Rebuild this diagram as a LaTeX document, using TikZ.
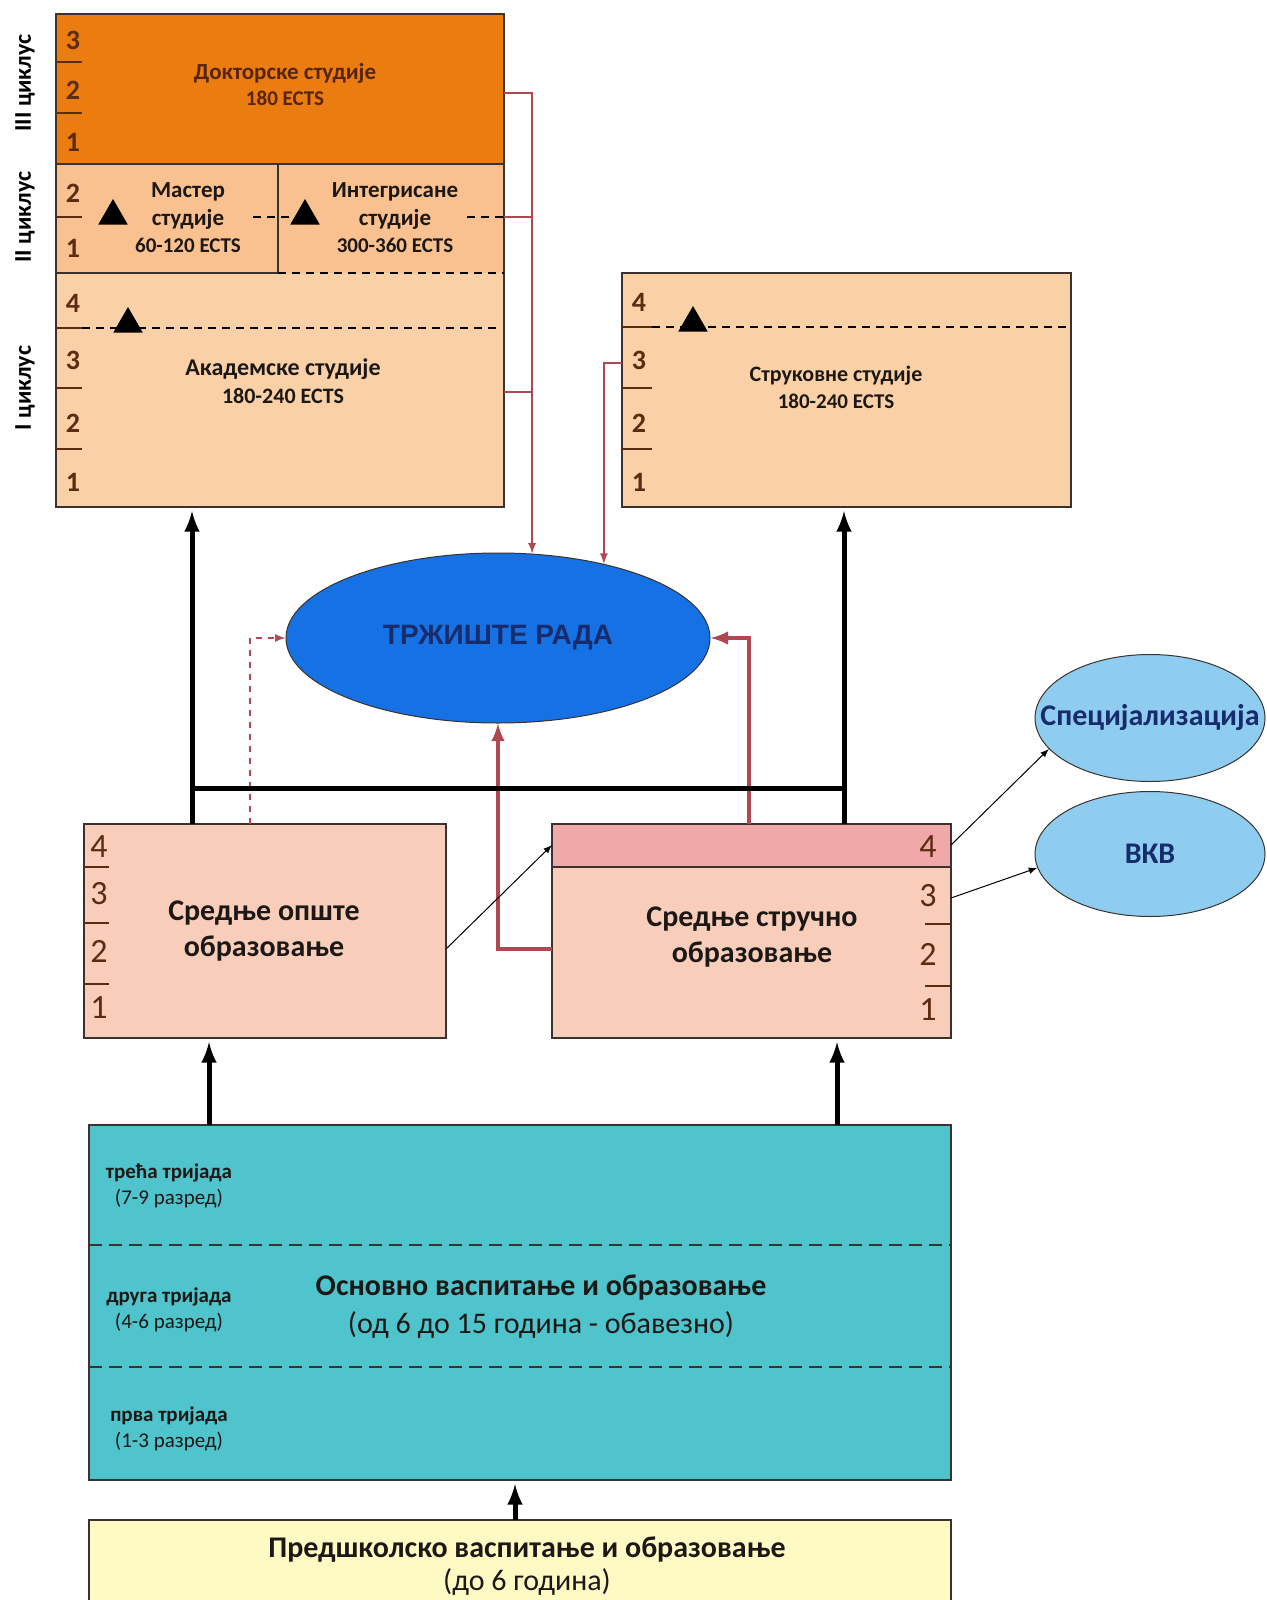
\documentclass[tikz,border=0pt]{standalone}
\usepackage{fontspec}
\setmainfont{Carlito}
\newfontfamily\arialfont{Liberation Sans}
\usepackage{xcolor}
\usepackage{tikz}
\usetikzlibrary{positioning,calc}
\usetikzlibrary{arrows,shapes}
\definecolor{doctC}{RGB}{234,124,16}
\definecolor{doctT}{RGB}{88,36,8}
\definecolor{mastC}{RGB}{249,192,144}
\definecolor{acadC}{RGB}{250,208,166}
\definecolor{sredC}{RGB}{248,206,186}
\definecolor{bandC}{RGB}{240,168,168}
\definecolor{mktC}{RGB}{22,114,228}
\definecolor{mktT}{RGB}{24,44,108}
\definecolor{specC}{RGB}{142,205,240}
\definecolor{osnC}{RGB}{80,196,204}
\definecolor{predC}{RGB}{255,249,196}
\definecolor{redC}{RGB}{176,72,82}
\definecolor{numC}{RGB}{92,44,18}
\definecolor{boxC}{RGB}{60,50,45}
\definecolor{txtC}{RGB}{28,24,22}
\tikzstyle{stage} = [rectangle,anchor=north west,inner sep=0pt,outer sep=0pt]
\tikzstyle{box} = [stage,draw=boxC,line width=0.6pt]
\tikzstyle{lbl} = [align=center,inner sep=0pt,text=txtC]
\tikzstyle{yr} = [inner sep=0pt,text=numC,font=\bfseries\fontsize{14}{14}\selectfont]
\tikzstyle{syr} = [inner sep=0pt,text=numC,font=\fontsize{17}{17}\selectfont]
\tikzstyle{yrtick} = [draw=numC,line width=0.6pt]
\tikzstyle{yrdash} = [draw=black,line width=0.6pt,dash pattern=on 4pt off 3pt]
\tikzstyle{tri} = [regular polygon,regular polygon sides=3,fill=black,inner sep=0pt,minimum size=17pt]
\tikzstyle{cyc} = [inner sep=0pt,rotate=90,font=\bfseries\fontsize{12}{12}\selectfont]
\tikzstyle{oval} = [ellipse,draw=boxC,line width=0.5pt,inner sep=0pt]
\tikzstyle{line} = [-latex,line width=0.5pt]
\tikzstyle{bigline} = [-latex,line width=2.5pt,shorten >=2pt]
\tikzstyle{redline} = [-latex,draw=redC,line width=0.8pt]
\tikzstyle{redbold} = [-latex,draw=redC,line width=2pt]

\begin{document}
\begin{tikzpicture}[x=0.5pt,y=-0.5pt]
\useasboundingbox (0,0) rectangle (1267,1600);
\node[stage,fill=doctC,minimum width=224pt,minimum height=75pt] (doct) at (56,14) {};
\node[stage,fill=mastC,minimum width=111pt,minimum height=54.5pt] (mast) at (56,164) {};
\node[stage,fill=mastC,minimum width=113pt,minimum height=54.5pt] (integ) at (278,164) {};
\node[stage,fill=acadC,minimum width=224pt,minimum height=117pt] (acad) at (56,273) {};
\draw[boxC,line width=0.6pt] (doct.north west) rectangle (acad.south east);
\draw[boxC,line width=0.6pt] (doct.south west) -- (doct.south east);
\draw[boxC,line width=0.6pt] (mast.north east) -- (mast.south east) -- (mast.south west);
\draw[yrdash] (integ.south west) -- (integ.south east);
\node[box,fill=acadC,minimum width=224.5pt,minimum height=117pt] (struk) at (622,273) {};

\node[cyc] (cyc3) at (25,83) {III циклус};
\node[cyc] (cyc2) at (25,217) {II циклус};
\node[cyc] (cyc1) at (25,388) {I циклус};
\foreach \n/\y in {3/40,2/90,1/142,2/193,1/248,4/303,3/360,2/423,1/482}
  \node[yr] (ay\y) at (73,\y) {\n};
\foreach \y in {62,113,217,328,388,449}
  \draw[yrtick] (56,\y) -- (82,\y);
\foreach \n/\y in {4/302,3/360,2/423,1/482}
  \node[yr] (sy\y) at (639,\y) {\n};
\foreach \y in {327,388,449}
  \draw[yrtick] (622,\y) -- (652,\y);
\draw[yrdash] (253,217) -- (290,217);
\draw[yrdash] (467,217) -- (504,217);
\draw[yrdash] (82,328) -- (500,328);
\draw[yrdash] (652,327) -- (1067,327);
\node[tri] (tm) at (113,216) {};
\node[tri] (ti) at (305,216) {};
\node[tri] (ta) at (128,324) {};
\node[tri] (ts) at (693,323) {};

\node[lbl,text=doctT,font=\bfseries\fontsize{11.5}{13}\selectfont] (doctL) at (285,85) {Докторске студије\\{\fontsize{10.5}{13}\selectfont 180 ECTS}};
\node[lbl,font=\bfseries\fontsize{11.5}{13.75}\selectfont] (mastL) at (188,218) {Мастер\\студије\\{\fontsize{10.5}{13.75}\selectfont 60-120 ECTS}};
\node[lbl,font=\bfseries\fontsize{11.5}{13.75}\selectfont] (integL) at (395,218) {Интегрисане\\студије\\{\fontsize{10.5}{13.75}\selectfont 300-360 ECTS}};
\node[lbl,font=\bfseries\fontsize{12}{14}\selectfont] (acadL) at (283,381) {Академске студије\\{\fontsize{11}{14}\selectfont 180-240 ECTS}};
\node[lbl,font=\bfseries\fontsize{11}{13.5}\selectfont] (strukL) at (836,387) {Струковне студије\\{\fontsize{10.5}{13.5}\selectfont 180-240 ECTS}};

\node[oval,fill=mktC,minimum width=212pt,minimum height=85pt,text=mktT,font=\arialfont\bfseries\fontsize{14}{14}\selectfont] (mkt) at (498,638) {ТРЖИШТЕ РАДА};
\node[oval,fill=specC,minimum width=115pt,minimum height=63.5pt] (spec) at (1150,718) {};
\node[lbl,text=mktT,font=\bfseries\fontsize{15}{15}\selectfont] (specL) at (spec) {Специјализација};
\node[oval,fill=specC,minimum width=115pt,minimum height=62.5pt] (vkb) at (1150,854) {};
\node[lbl,text=mktT,font=\bfseries\fontsize{15}{15}\selectfont] (vkbL) at (vkb) {ВКВ};

\node[box,fill=sredC,minimum width=181pt,minimum height=107pt] (sopste) at (84,824) {};
\node[box,fill=sredC,minimum width=199.5pt,minimum height=107pt] (sstruc) at (552,824) {};
\node[box,fill=bandC,minimum width=199.5pt,minimum height=21.5pt] (band) at (552,824) {};
\foreach \n/\y in {4/847,3/894,2/951,1/1008}
  \node[syr] (oy\y) at (99,\y) {\n};
\foreach \y in {867,923,984}
  \draw[yrtick] (84,\y) -- (109,\y);
\foreach \n/\y in {4/847,3/896,2/954,1/1010}
  \node[syr] (ty\y) at (928,\y) {\n};
\foreach \y in {924,986}
  \draw[yrtick] (925,\y) -- (951,\y);
\node[lbl,font=\bfseries\fontsize{15}{18}\selectfont] (sopsteL) at (264,931) {Средње опште\\образовање};
\node[lbl,font=\bfseries\fontsize{15}{18}\selectfont] (sstrucL) at (752,937) {Средње стручно\\образовање};

\node[box,fill=osnC,minimum width=431pt,minimum height=177.5pt] (osn) at (89,1125) {};
\draw[draw=boxC,line width=0.75pt,dash pattern=on 6.5pt off 3.5pt] (osn.west |- 0,1245) -- (osn.east |- 0,1245);
\draw[draw=boxC,line width=0.75pt,dash pattern=on 6.5pt off 3.5pt] (osn.west |- 0,1367) -- (osn.east |- 0,1367);
\node[lbl,font=\fontsize{10.5}{13}\selectfont] (tr3) at (169,1186) {\textbf{трећа тријада}\\(7-9 разред)};
\node[lbl,font=\fontsize{10.5}{13}\selectfont] (tr2) at (169,1310) {\textbf{друга тријада}\\(4-6 разред)};
\node[lbl,font=\fontsize{10.5}{13}\selectfont] (tr1) at (169,1429) {\textbf{прва тријада}\\(1-3 разред)};
\node[lbl,font=\fontsize{15}{19}\selectfont] (osnL) at (541,1307) {\textbf{Основно васпитање и образовање}\\(од 6 до 15 година - обавезно)};
\node[box,fill=predC,minimum width=431pt,minimum height=41.5pt] (pred) at (89,1520) {};
\node[lbl,font=\fontsize{15}{16.5}\selectfont] (predL) at (527,1566) {\textbf{Предшколско васпитање и образовање}\\(до 6 година)};

\coordinate (jx) at (532,0);
\draw[redline] (doct.east |- 0,93) -| (mkt.68.6);
\draw[redline,-] (integ.east |- 0,217) -- (jx |- 0,217);
\draw[redline,-] (acad.east |- 0,392) -- (jx |- 0,392);
\draw[redline] (struk.west |- 0,363) -| (mkt.35);
\coordinate (opx) at (250,0);
\coordinate (stx) at (749,0);
\draw[redline,dashed] (sopste.north -| opx) |- (mkt.west);
\draw[redbold] (sstruc.west |- 0,949) -| (mkt.south);
\draw[redbold] (sstruc.north -| stx) |- (mkt.east);

\coordinate (lx) at (192,0);
\coordinate (rx) at (844,0);
\coordinate (hy) at (0,788);
\path[bigline] (sopste.north -| lx) edge (acad.south -| lx);
\path[bigline] (sstruc.north -| rx) edge (struk.south -| rx);
\draw[line width=2.5pt] (lx |- hy) -- (rx |- hy);
\coordinate (ax) at (209,0);
\coordinate (bx) at (837,0);
\coordinate (px) at (515,0);
\path[bigline] (osn.north -| ax) edge (sopste.south -| ax);
\path[bigline] (osn.north -| bx) edge (sstruc.south -| bx);
\path[bigline] (pred.north -| px) edge (osn.south -| px);

\path[line] (sopste.east |- 0,949) edge (sstruc.west |- 0,845);
\path[line] (sstruc.east |- 0,845) edge (spec.197);
\path[line] (sstruc.east |- 0,898) edge (vkb.187);
\end{tikzpicture}
\end{document}
